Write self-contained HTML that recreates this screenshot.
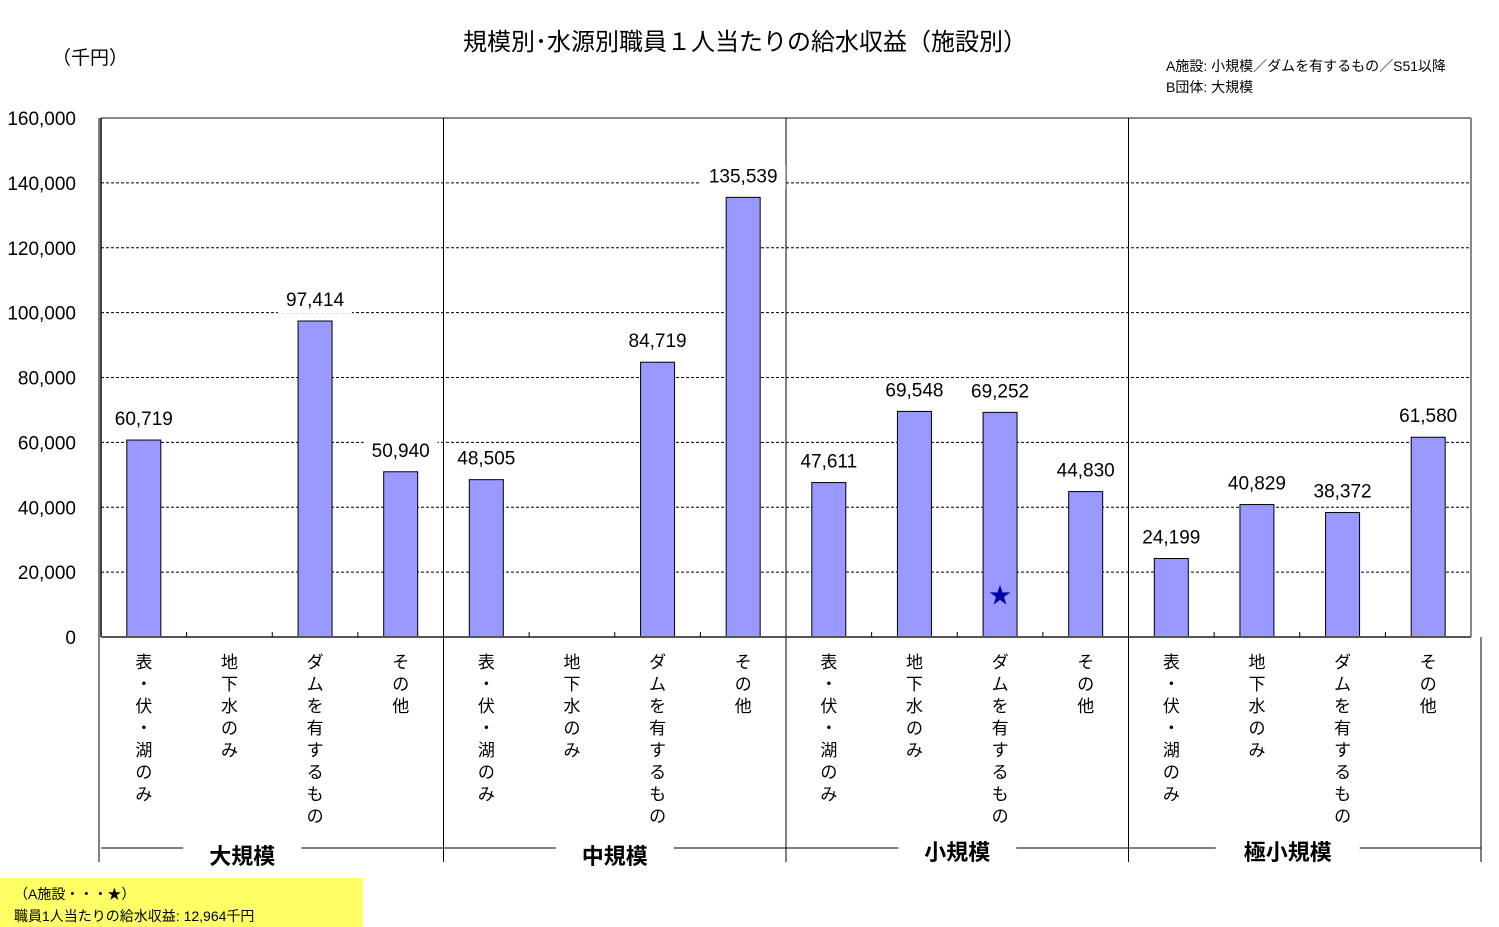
<!DOCTYPE html>
<html><head><meta charset="utf-8"><style>
body{margin:0;background:#fff;}
svg{display:block;font-family:"Liberation Sans","Noto Sans CJK JP",sans-serif;}
</style></head><body>
<svg id="c" width="1499" height="927" xmlns="http://www.w3.org/2000/svg">
<text x="745" y="50" text-anchor="middle" font-size="24">規模別･水源別職員１人当たりの給水収益（施設別）</text>
<text x="52" y="64" font-size="19">（千円）</text>
<text x="1166" y="71" font-size="14">A施設: 小規模／ダムを有するもの／S51以降</text>
<text x="1166" y="92" font-size="14">B団体: 大規模</text>
<rect x="0" y="878" width="363" height="49" fill="#ffff66"/>
<text x="14" y="899" font-size="14">（A施設・・・★）</text>
<text x="14" y="921" font-size="14">職員1人当たりの給水収益: 12,964千円</text>
<g id="g"></g>
</svg>
<script>
const groups=["大規模","中規模","小規模","極小規模"];
const categories=["表・伏・湖のみ","地下水のみ","ダムを有するもの","その他"];
const values=[60719,null,97414,50940,48505,null,84719,135539,47611,69548,69252,44830,24199,40829,38372,61580];
const yTicks=[0,20000,40000,60000,80000,100000,120000,140000,160000];
const starIndex=10, starValue=12964;
const X0=101,X1=1471,Y0=637,Y1=118,YMAX=160000;
const n=values.length, slot=(X1-X0)/n;
const y=v=>Y0-(v/YMAX)*(Y0-Y1);
const xc=i=>X0+slot*(i+0.5);
const NS="http://www.w3.org/2000/svg";
const g=document.getElementById('g');
function mk(t,a,txt){const e=document.createElementNS(NS,t);for(const k in a)e.setAttribute(k,a[k]);if(txt!=null)e.textContent=txt;g.appendChild(e);return e;}
const fmt=v=>v.toLocaleString('en-US');
// grid + ticks
yTicks.forEach(t=>{
  if(t>0&&t<YMAX){const l=mk('line',{x1:X0,x2:X1,y1:y(t),y2:y(t),stroke:'#000','stroke-width':1,'stroke-dasharray':'3,2'});
  
  }
  const tx=mk('text',{x:76,y:y(t)+7,'text-anchor':'end','font-size':19},fmt(t));
  
  
});
// frame
mk('line',{x1:X0,x2:X1,y1:Y1,y2:Y1,stroke:'#888','stroke-width':2});
mk('line',{x1:X1,x2:X1,y1:Y1,y2:Y0,stroke:'#888','stroke-width':2});
mk('line',{x1:X0,x2:X0,y1:Y1,y2:Y0,stroke:'#000','stroke-width':1.5});
mk('line',{x1:99,x2:99,y1:Y1,y2:862,stroke:'#000','stroke-width':1});
// section separators
for(let k=1;k<4;k++){const x=X0+slot*4*k;
  const s=mk('line',{x1:x,x2:x,y1:Y1,y2:862,stroke:'#000','stroke-width':1});
  
  }
mk('line',{x1:1481,x2:1481,y1:Y0,y2:862,stroke:'#000','stroke-width':1});
// bars
values.forEach((v,i)=>{
  if(v==null)return;
  const b=mk('rect',{x:xc(i)-17,y:y(v),width:34,height:Y0-y(v),fill:'#9999ff',stroke:'#000','stroke-width':1});
  
  
  const w=fmt(v).length*11+8;
  mk('rect',{x:xc(i)-w/2,y:y(v)-32,width:w,height:24,fill:'#fff'});
  const t=mk('text',{x:xc(i),y:y(v)-15,'text-anchor':'middle','font-size':19},fmt(v));
  
  
});
// x axis
mk('line',{x1:X0,x2:X1,y1:Y0,y2:Y0,stroke:'#555','stroke-width':2});
for(let i=1;i<n;i++)mk('line',{x1:X0+slot*i,x2:X0+slot*i,y1:Y0-5,y2:Y0,stroke:'#000'});
// category labels (vertical)
values.forEach((v,i)=>{
  const txt=categories[i%4];
  [...txt].forEach((ch,j)=>{
    const t=mk('text',{x:xc(i),y:668+j*22,'text-anchor':'middle','font-size':17},ch);
    
    
  });
});
// group labels
groups.forEach((gname,k)=>{
  const x0=X0+slot*4*k, x1=x0+slot*4, cx=(x0+x1)/2+(k==0?-30:k==3?-12:0);
  const hw=gname.length*13+20;
  mk('line',{x1:x0,x2:cx-hw,y1:848,y2:848,stroke:'#000'});
  mk('line',{x1:cx+hw,x2:(k==3?1481:x1),y1:848,y2:848,stroke:'#000'});
  const t=mk('text',{x:cx,y:k>=2?860:864,'text-anchor':'middle','font-size':22,'font-weight':'bold'},gname);
  
  
});
// star marker
const st=mk('text',{x:xc(starIndex),y:y(starValue)+8,'text-anchor':'middle','font-size':22,fill:'#0000aa'},'★');


</script>
</body></html>
